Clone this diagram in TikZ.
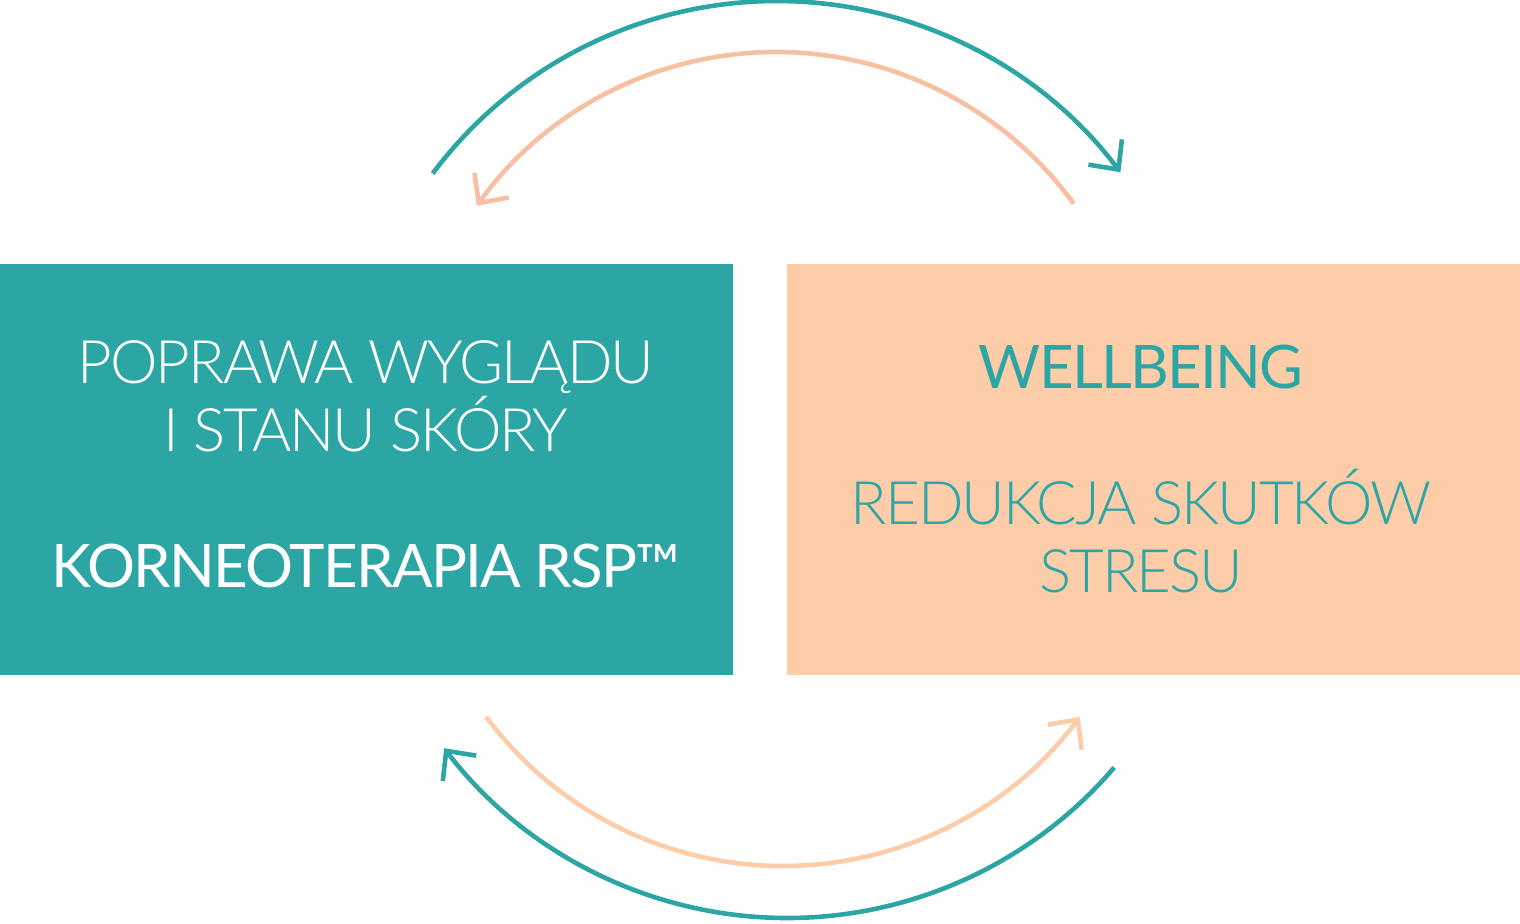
\documentclass[tikz,border=0pt]{standalone}
\usepackage{fontspec}
\setmainfont{Lato}[LetterSpace=-2.9]
\newfontfamily\latolight{Lato Light}[LetterSpace=-3.3]
\usetikzlibrary{arrows.meta}
\definecolor{rspteal}{HTML}{2CA6A4}
\definecolor{rsppeach}{HTML}{FDCDAA}
\definecolor{rspsalmon}{HTML}{F7C0A2}
\begin{document}
\begin{tikzpicture}[x=0.5pt,y=-0.5pt]

			\tikzstyle{panel}=[draw=none,inner sep=0pt,
				minimum width=366.5pt,minimum height=205.5pt]
			\tikzstyle{boxtext}=[align=center,inner sep=0pt,
				font=\fontsize{30}{34}\selectfont]
			\tikzstyle{arcline}=[line width=2.3pt,
				-{Straight Barb[length=11pt,width=21pt,line join=miter]}]

			\useasboundingbox (0,0) rectangle (1520,923);

			\node[panel,fill=rspteal]		(skin)	at (366.5,469.5)	{};
			\node[panel,fill=rsppeach]	(calm)	at (1153.5,469.5)	{};

			\node[boxtext,text=white]	(skintext)	at (366,464)
				{{\latolight POPRAWA WYGLĄDU}\\{\latolight I STANU SKÓRY}\\[34pt]KORNEOTERAPIA RSP™};
			\node[boxtext,text=rspteal]	(calmtext)	at (1141,469)
				{WELLBEING\\[34pt]{\latolight REDUKCJA SKUTKÓW}\\{\latolight STRESU}};

			\coordinate	(topout)	at (777,431);
			\coordinate	(topin)	at (776,420);
			\coordinate	(botout)	at (787,487);
			\coordinate	(botin)	at (783,496);

			\draw[arcline,rspteal]	(topout) ++(-143.2:430) arc[start angle=-143.2,end angle=-37,radius=430];
			\draw[arcline,rspsalmon]	(topin) ++(-36:368) arc[start angle=-36,end angle=-144.4,radius=368];
			\draw[arcline,rspteal]	(botout) ++(40.6:431) arc[start angle=40.6,end angle=142.7,radius=431];
			\draw[arcline,rsppeach]	(botin) ++(143.35:370) arc[start angle=143.35,end angle=36.65,radius=370];

		\end{tikzpicture}
\end{document}
